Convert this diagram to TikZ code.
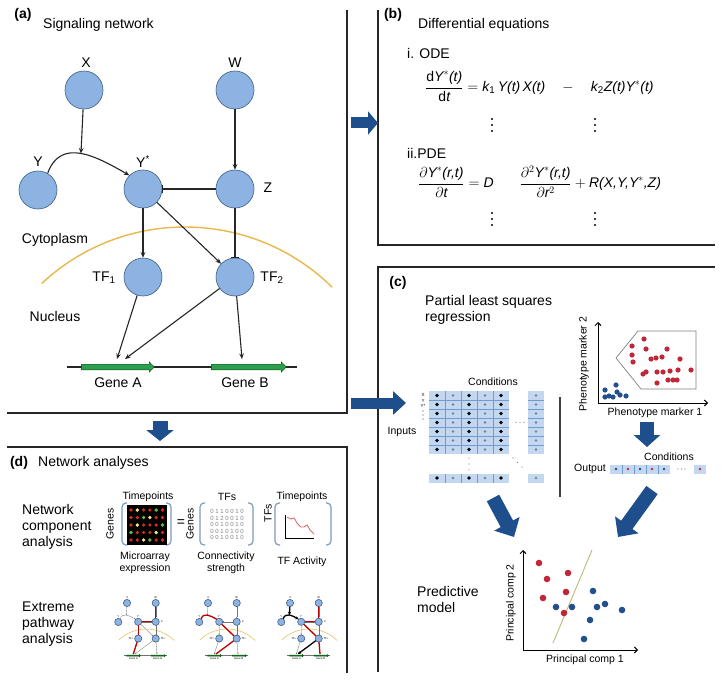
\documentclass[tikz,border=0pt]{standalone}
\usepackage{fontspec}
\usepackage{amsmath}
\setmainfont{Liberation Sans}
\usetikzlibrary{shapes, shapes.arrows, positioning, calc, arrows.meta}

\definecolor{nodeblue}{HTML}{8DB3E2}
\definecolor{nodeline}{HTML}{3F5F86}
\definecolor{navy}{HTML}{1F4E8C}
\definecolor{membrane}{HTML}{E8B84A}
\definecolor{genegreen}{HTML}{2E9E4F}
\definecolor{cellbg}{HTML}{C3D7F0}
\definecolor{cellline}{HTML}{6F9BD1}
\definecolor{dotred}{HTML}{C0283A}
\definecolor{dotblue}{HTML}{224F8E}
\definecolor{olive}{HTML}{B8B36E}
\definecolor{brack}{HTML}{7E9BC0}
\definecolor{mared}{HTML}{D42A2A}
\definecolor{magreen}{HTML}{48C048}
\definecolor{mayel}{HTML}{E4F08A}
\definecolor{actpink}{HTML}{D9707A}

\newcommand{\ti}[1]{\text{\itshape #1}}
\newcommand{\fs}[2]{\fontsize{#1}{#2}\selectfont}

\begin{document}
\begin{tikzpicture}[x=1pt, y=1pt]

  \tikzset{plabel/.style={font=\bfseries\fs{14}{16}, inner sep=0pt}}
  \tikzset{title/.style={font=\fs{14}{16}, inner sep=0pt}}
  \tikzset{lbl/.style={font=\fs{14}{16}, inner sep=0pt}}
  \tikzset{small/.style={font=\fs{10.5}{12.5}, inner sep=0pt}}
  \tikzset{tiny/.style={font=\fs{4.5}{5}, inner sep=0pt}}
  \tikzset{eq/.style={font=\fs{14}{16}, inner sep=0pt}}
  \tikzset{frame/.style={line width=1.4pt, black!85}}
  \tikzset{sig/.style={circle, draw=nodeline, fill=nodeblue, minimum size=38pt, inner sep=0pt, line width=0.6pt}}
  \tikzset{net/.style={line width=1.1pt, black!85}}
  \tikzset{act/.style={net, -{Stealth[length=0pt 5, width=0pt 4.2]}}}
  \tikzset{inh/.style={net, -{Bar[width=0pt 8]}}}
  \tikzset{mem/.style={membrane, line width=1.4pt}}
  \tikzset{gene/.style={single arrow, draw=green!30!black, fill=genegreen, inner xsep=0pt, inner ysep=2.6pt, single arrow head extend=2.4pt, single arrow head indent=0pt, line width=0.4pt}}
  \tikzset{blockarr/.style={navy, line width=12pt, -{Triangle[width=25pt, length=11pt]}}}
  \tikzset{hlred/.style={line width=1.3pt, red!75!black}}
  \tikzset{hlblk/.style={line width=1.3pt, black, -{Stealth[length=0pt 2.5, width=0pt 2.5]}}}
  \tikzset{axes/.style={line width=0.9pt, black, {Straight Barb[length=3pt, width=6pt]}-{Straight Barb[length=3pt, width=6pt]}}}
  \tikzset{brk/.style={brack, line width=1.2pt, rounded corners=4pt}}

  % signaling network, drawn once large and three times small
  \tikzset{signet/.pic={
    \node[sig] (-X) at (0,0) {};
    \node[sig] (-W) at (151,0) {};
    \node[sig] (-Y) at (-46,-100) {};
    \node[sig] (-Ys) at (59,-99) {};
    \node[sig] (-Z) at (151,-99) {};
    \node[sig] (-TFa) at (59,-187) {};
    \node[sig] (-TFb) at (151,-187) {};
    \node[lbl] (-tX) at (2,27) {X};
    \node[lbl] (-tW) at (151,27) {W};
    \node[lbl] (-tY) at (-46,-72) {Y};
    \node[lbl] (-tYs) at (59,-72) {Y\textsuperscript{*}};
    \node[lbl] (-tZ) at (184,-98) {Z};
    \node[lbl] (-tTFa) at (20,-188) {TF\textsubscript{1}};
    \node[lbl] (-tTFb) at (188,-188) {TF\textsubscript{2}};
    \draw[mem] (101,-347) ++(133:210) arc[start angle=133, end angle=45.5, radius=210];
    \draw[net] (-17,-277) -- (213,-277);
    \node[gene, minimum height=73pt] (-gA) at (32.5,-277) {};
    \node[gene, minimum height=75pt] (-gB) at (163.5,-277) {};
    \node[lbl] (-lA) at (34,-293) {Gene A};
    \node[lbl] (-lB) at (161,-293) {Gene B};
    \coordinate (-ga1) at (33,-269);
    \coordinate (-ga2) at (41,-269);
    \coordinate (-gb) at (158,-269);
    \draw[act] (-Y.60) to[out=70, in=150, looseness=1.2] coordinate[pos=0.5] (-yy) (-Ys.135);
    \draw[act] (-X) -- (-yy);
    \draw[act] (-W) -- (-Z);
    \draw[inh] (-Z) -- (-Ys);
    \draw[act] (-Ys) -- (-TFa);
    \draw[act] (-Ys) -- (-TFb);
    \draw[inh] (-Z) -- (-TFb);
    \draw[act] (-TFa) -- (-ga1);
    \draw[act] (-TFb) -- (-ga2);
    \draw[act] (-TFb) -- (-gb);
  }}

  \fill[white] (0,0) rectangle (725,-682);
  \useasboundingbox (0,0) rectangle (725,-682);

  % panel frames
  \draw[frame] (7,-413) -- (347,-413) -- (347,-10);
  \draw[frame] (7,-447) -- (347,-447) -- (347,-673);
  \draw[frame] (378,-10) -- (378,-245) -- (715,-245);
  \draw[frame] (715,-267) -- (378,-267) -- (378,-672);

  % (a) signaling network
  \node[plabel] (la) at (23,-15) {(a)};
  \node[title, anchor=west] (ta) at (43,-25) {Signaling network};
  \pic (a) at (84,-90) {signet};
  \node[lbl] (cyto) at (55,-240) {Cytoplasm};
  \node[lbl, below=64pt of cyto] (nuc) {Nucleus};

  % (b) differential equations
  \node[plabel] (lb) at (393,-15) {(b)};
  \node[title, anchor=west] (tb) at (418,-25) {Differential equations};
  \node[title, anchor=west] (ode) at (407,-53) {i. ODE};
  \node[eq, anchor=base west] (odeq) at (425,-91.5) {$\dfrac{\text{d}\ti{Y}^{*}\ti{(t)}}{\text{d}\ti{t}} = \ti{k}_{\text{1}}\,\ti{Y(t)}\,\ti{X(t)}\quad-\quad\ti{k}_{\text{2}}\ti{Z(t)Y}^{*}\ti{(t)}$};
  \node[title, anchor=west] (pde) at (407,-153) {ii.PDE};
  \node[eq, anchor=base west] (pdeq) at (418,-187.5) {$\dfrac{\partial\ti{Y}^{*}\ti{(r,t)}}{\partial\ti{t}} = \ti{D}\hspace{26pt}\dfrac{\partial^{2}\ti{Y}^{*}\ti{(r,t)}}{\partial\ti{r}^{2}} + \ti{R(X,Y,Y}^{*}\ti{,Z)}$};
  \foreach \x in {492,595}
    \foreach \y in {119,125,131,213,219,225} \fill[black] (\x,-\y) circle (1.1);

  % (c) partial least squares regression
  \node[plabel] (lc) at (398,-283) {(c)};
  \node[title, anchor=north west, align=left] (tc) at (425,-295) {Partial least squares\\regression};

  % input matrix
  \node[small] (cond1) at (493,-382) {Conditions};
  \node[small] (inp) at (402,-432) {Inputs};
  \fill[cellbg] (429,-391) rectangle (509,-454);
  \fill[cellbg] (528,-391) rectangle (544,-454);
  \foreach \k in {1,...,6} {
    \draw[cellline, line width=0.7pt] (429,{-391-9*\k}) -- (509,{-391-9*\k});
    \draw[cellline, line width=0.7pt] (528,{-391-9*\k}) -- (544,{-391-9*\k});
  }
  \foreach \x in {445,461,477,493} \draw[cellline, line width=0.4pt] (\x,-391) -- (\x,-454);
  \foreach \k in {0,...,6} {
    \foreach \x in {437,469,501} \fill[black] (\x,{-395.5-9*\k}) circle (1.8);
    \foreach \x in {453,485,536} \fill[gray] (\x,{-395.5-9*\k}) circle (1.3);
  }
  \node[tiny] (rX) at (423,-395) {X};
  \node[tiny] (rY) at (423,-400.5) {Y};
  \node[tiny] (rYs) at (423,-406) {Y*};
  \foreach \y in {411,415,419} \fill[black!70] (423,-\y) circle (0.6);
  \foreach \x in {516,520,524} \fill[gray] (\x,-422.5) circle (0.7);
  \foreach \y in {458,464,470} \fill[gray] (469,-\y) circle (0.7);
  \foreach \p in {(513,-458),(517.5,-462.5),(522,-467)} \fill[gray] \p circle (0.7);
  \fill[cellbg] (429,-473.5) rectangle (509,-482.5);
  \fill[cellbg] (528,-473.5) rectangle (544,-482.5);
  \foreach \x in {445,461,477,493} \draw[cellline, line width=0.7pt] (\x,-473.5) -- (\x,-482.5);
  \foreach \x in {437,469,501} \fill[black] (\x,-478) circle (1.8);
  \foreach \x in {453,485,536} \fill[gray] (\x,-478) circle (1.3);
  \draw[line width=1.3pt, black!75] (560,-397) -- (560,-497);

  % phenotype scatter
  \draw[axes] (598,-322) -- (598,-403) -- (708,-403);
  \node[small, rotate=90] (py) at (584,-364) {Phenotype marker 2};
  \node[small] (px) at (655,-413) {Phenotype marker 1};
  \draw[gray, line width=0.7pt] (638,-331) -- (696,-331) -- (696,-389) -- (641,-389) -- (616,-358) -- cycle;
  \foreach \p in {(644,-339),(632,-346),(646,-349),(667,-349),(632,-355),(633,-362),(651,-359),(656,-358),(662,-357),(680,-359),(643,-374),(646,-372),(657,-372),(663,-372),(670,-371),(678,-370),(691,-370),(657,-383),(668,-380),(673,-380),(677,-380)}
    \fill[dotred] \p circle (2.6);
  \foreach \p in {(605,-390),(616,-385),(617,-392),(605,-397),(609,-396),(620,-395),(626,-396),(613,-397)}
    \fill[dotblue] \p circle (2.6);

  % output vector
  \node[small] (cond2) at (669,-457) {Conditions};
  \node[small] (outp) at (590,-469) {Output};
  \fill[cellbg] (610,-464.5) rectangle (670,-473.5);
  \fill[cellbg] (694,-464.5) rectangle (706,-473.5);
  \foreach \x in {622,634,646,658} \draw[cellline, line width=0.6pt] (\x,-464.5) -- (\x,-473.5);
  \foreach \x in {616,640,664} \fill[dotblue] (\x,-469) circle (1.4);
  \foreach \x in {628,652,700} \fill[dotred] (\x,-469) circle (1.4);
  \foreach \x in {678,681.5,685} \fill[gray] (\x,-469) circle (0.7);

  % predictive model
  \node[title, anchor=west, align=left] (tpm) at (417,-599) {Predictive\\model};
  \draw[axes] (523,-550) -- (523,-650) -- (638,-650);
  \node[small, rotate=90] (pcy) at (511,-603) {Principal comp 2};
  \node[small] (pcx) at (585,-660) {Principal comp 1};
  \draw[olive, line width=0.8pt] (592,-550) -- (553,-643);
  \foreach \p in {(539,-563),(547,-579),(568,-573),(566,-592),(543,-598),(564,-613)}
    \fill[dotred] \p circle (3.3);
  \foreach \p in {(593,-591),(556,-607),(572,-607),(597,-607),(605,-604),(622,-610),(590,-620),(584,-639)}
    \fill[dotblue] \p circle (3.3);

  % block arrows between panels
  \coordinate (abS) at (351,-123);
  \coordinate (abE) at (378,-123);
  \coordinate (acS) at (351,-403);
  \coordinate (acE) at (406,-403);
  \coordinate (adS) at (160,-421);
  \coordinate (adE) at (160,-441);
  \coordinate (phS) at (647,-422);
  \coordinate (phE) at (647,-447);
  \coordinate (plS) at (493,-498);
  \coordinate (plE) at (514,-537);
  \coordinate (prS) at (652,-490);
  \coordinate (prE) at (618,-537);
  \draw[blockarr, line width=11pt, -{Triangle[width=23pt, length=10pt]}] (abS) -- (abE);
  \draw[blockarr, line width=11pt, -{Triangle[width=23pt, length=13pt]}] (acS) -- (acE);
  \draw[blockarr, line width=15pt, -{Triangle[width=27pt, length=11pt]}] (adS) -- (adE);
  \draw[blockarr, line width=14pt, -{Triangle[width=26pt, length=12pt]}] (phS) -- (phE);
  \draw[blockarr, line width=14pt, -{Triangle[width=28pt, length=15pt]}] (plS) -- (plE);
  \draw[blockarr, line width=14pt, -{Triangle[width=28pt, length=15pt]}] (prS) -- (prE);

  % (d) network analyses
  \node[plabel] (ld) at (19,-463) {(d)};
  \node[title, anchor=west] (td) at (38,-463) {Network analyses};
  \node[title, anchor=west, align=left] (tnca) at (22,-527) {Network\\component\\analysis};
  \node[title, anchor=west, align=left] (tepa) at (22,-624) {Extreme\\pathway\\analysis};

  % microarray = connectivity x activity
  \node[small] (tp1) at (148,-497) {Timepoints};
  \node[small] (tfs) at (227,-497) {TFs};
  \node[small] (tp2) at (302,-497) {Timepoints};
  \node[small, rotate=90] (gn1) at (110,-524) {Genes};
  \node[small, rotate=90] (gn2) at (190,-524) {Genes};
  \node[small, rotate=90] (tfr) at (268,-513) {TFs};
  \node[lbl] (eqs) at (181,-523) {=};
  \draw[brk] (127,-503) -- (122,-503) -- (122,-545) -- (127,-545);
  \draw[brk] (166,-503) -- (171,-503) -- (171,-545) -- (166,-545);
  \draw[brk] (205,-503) -- (200,-503) -- (200,-545) -- (205,-545);
  \draw[brk] (248,-503) -- (253,-503) -- (253,-545) -- (248,-545);
  \draw[brk] (280,-503) -- (275,-503) -- (275,-545) -- (280,-545);
  \draw[brk] (326,-503) -- (331,-503) -- (331,-545) -- (326,-545);
  \fill[black] (127,-505) rectangle (167,-545);
  \foreach \x in {131,137.3,143.6,149.9,156.2,162.5}
    \foreach \y in {510,517.5,525,532.5,540} \fill[mared] (\x,-\y) circle (1.8);
  \foreach \p in {(156.2,-510),(143.6,-517.5),(162.5,-525),(131,-532.5),(149.9,-540)}
    \fill[magreen] \p circle (1.8);
  \foreach \p in {(137.3,-510),(149.9,-517.5),(137.3,-525),(156.2,-532.5),(143.6,-540)}
    \fill[mayel] \p circle (1.8);
  \foreach \s [count=\i] in {0 1 1 0 0 1 0, 0 1 2 0 0 1 0, 0 0 1 0 0 1 0, 0 0 1 0 1 0 0, 0 0 1 0 0 1 0}
    \node[font=\fs{6}{6}, text=gray, inner sep=0pt] (cs\i) at (227,{-505-6.5*\i}) {\s};
  \draw[line width=0.6pt] (285,-515) -- (285,-538) -- (314,-538);
  \draw[actpink, line width=0.9pt] plot[smooth] coordinates {(287,-517) (291,-519) (294,-518) (297,-523) (301,-527) (304,-527) (307,-525) (310,-530) (314,-534)};
  \node[small, align=center] (tma) at (145,-563) {Microarray\\expression};
  \node[small, align=center] (tcs) at (226,-563) {Connectivity\\strength};
  \node[small] (tta) at (302,-562) {TF Activity};

  % extreme pathways
  \pic[scale=0.19, transform shape, net/.style={line width=0.3pt, black!55}, mem/.style={membrane, line width=0.5pt}] (m1) at (127,-603) {signet};
  \pic[scale=0.19, transform shape, net/.style={line width=0.3pt, black!55}, mem/.style={membrane, line width=0.5pt}] (m2) at (208,-603) {signet};
  \pic[scale=0.19, transform shape, net/.style={line width=0.3pt, black!55}, mem/.style={membrane, line width=0.5pt}] (m3) at (290,-603) {signet};
  \draw[hlred] (m1-W) -- (m1-Z);
  \draw[hlred] (m1-Z) -- (m1-Ys);
  \draw[hlred] (m1-Ys) -- (m1-TFa);
  \draw[hlred] (m1-TFa) -- (m1-ga1);
  \draw[hlred] (m2-Y.60) to[out=70, in=150, looseness=1.2] (m2-Ys.135);
  \draw[hlred] (m2-Ys) -- (m2-TFb);
  \draw[hlred] (m2-TFb) -- (m2-ga2);
  \draw[hlblk] (m3-X) -- (m3-yy);
  \draw[hlblk] (m3-Y.60) to[out=70, in=150, looseness=1.2] (m3-Ys.135);
  \draw[hlred] (m3-W) -- (m3-Z);
  \draw[hlred] (m3-Z) -- (m3-Ys);
  \draw[hlred] (m3-Ys) -- (m3-TFb);
  \draw[hlred] (m3-TFb) -- (m3-gb);
  \draw[hlblk] (m3-TFb) -- (m3-ga2);
\end{tikzpicture}
\end{document}
